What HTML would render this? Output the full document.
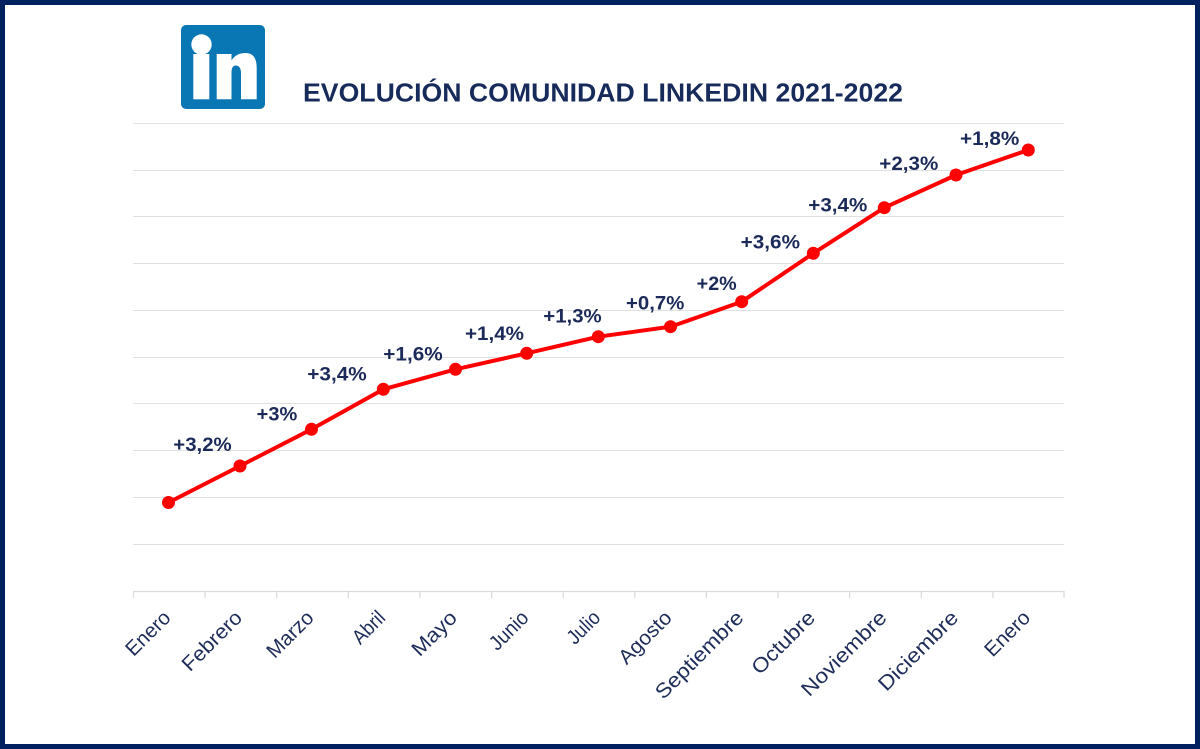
<!DOCTYPE html>
<html>
<head>
<meta charset="utf-8">
<style>
  html, body { margin: 0; padding: 0; background: #fff; }
  body { width: 1200px; height: 749px; overflow: hidden; }
  svg { display: block; }
</style>
</head>
<body>
<svg width="1200" height="749" viewBox="0 0 1200 749" xmlns="http://www.w3.org/2000/svg">
  <!-- background + border -->
  <rect x="0" y="0" width="1200" height="749" fill="#002060"/>
  <rect x="5" y="5" width="1190" height="739" fill="#ffffff"/>

  <!-- LinkedIn logo -->
  <rect x="181" y="25" width="84" height="84" rx="5" ry="5" fill="#0a77b5"/>
  <circle cx="201.5" cy="44.5" r="10.2" fill="#ffffff"/>
  <rect x="193.3" y="54" width="16" height="45.3" fill="#ffffff"/>
  <path d="M216.7 54 H231.5 V60.5 C234.5 55.5 239.5 53 245.5 53 C253 53 256.7 58 256.7 68 V99.3 H241 V73 C241 68 239 65.5 235.8 65.5 C232.8 65.5 231.5 68 231.5 73 V99.3 H216.7 Z" fill="#ffffff"/>

  <!-- Title -->
  <text x="303" y="101.5" font-family="Liberation Sans, Arial, sans-serif" font-weight="bold" font-size="26" fill="#172b5b" textLength="600" lengthAdjust="spacingAndGlyphs">EVOLUCIÓN COMUNIDAD LINKEDIN 2021-2022</text>

  <!-- Gridlines -->
  <g stroke="#e0e0e0" stroke-width="1">
    <line x1="133" x2="1064" y1="123.5" y2="123.5"/>
    <line x1="133" x2="1064" y1="170.5" y2="170.5"/>
    <line x1="133" x2="1064" y1="216.5" y2="216.5"/>
    <line x1="133" x2="1064" y1="263.5" y2="263.5"/>
    <line x1="133" x2="1064" y1="310.5" y2="310.5"/>
    <line x1="133" x2="1064" y1="357.5" y2="357.5"/>
    <line x1="133" x2="1064" y1="403.5" y2="403.5"/>
    <line x1="133" x2="1064" y1="450.5" y2="450.5"/>
    <line x1="133" x2="1064" y1="497.5" y2="497.5"/>
    <line x1="133" x2="1064" y1="544.5" y2="544.5"/>
  </g>
  <!-- Axis line and ticks -->
  <g stroke="#d9d9d9" stroke-width="1.2">
    <line x1="133" x2="1064" y1="591.5" y2="591.5"/>
    <line x1="133.5" x2="133.5" y1="591" y2="598"/>
    <line x1="205.1" x2="205.1" y1="591" y2="598"/>
    <line x1="276.7" x2="276.7" y1="591" y2="598"/>
    <line x1="348.3" x2="348.3" y1="591" y2="598"/>
    <line x1="419.9" x2="419.9" y1="591" y2="598"/>
    <line x1="491.6" x2="491.6" y1="591" y2="598"/>
    <line x1="563.2" x2="563.2" y1="591" y2="598"/>
    <line x1="634.8" x2="634.8" y1="591" y2="598"/>
    <line x1="706.4" x2="706.4" y1="591" y2="598"/>
    <line x1="778.0" x2="778.0" y1="591" y2="598"/>
    <line x1="849.6" x2="849.6" y1="591" y2="598"/>
    <line x1="921.3" x2="921.3" y1="591" y2="598"/>
    <line x1="992.9" x2="992.9" y1="591" y2="598"/>
    <line x1="1064" x2="1064" y1="591" y2="598"/>
  </g>

  <!-- X-axis labels (rotated -45) -->
  <g font-family="Liberation Sans, Arial, sans-serif" font-size="20.5" fill="#1f2d5a" text-anchor="end">
    <text transform="translate(171.8,619) rotate(-45)" textLength="54" lengthAdjust="spacingAndGlyphs">Enero</text>
    <text transform="translate(243.4,619) rotate(-45)" textLength="75.5" lengthAdjust="spacingAndGlyphs">Febrero</text>
    <text transform="translate(315.0,619) rotate(-45)" textLength="57" lengthAdjust="spacingAndGlyphs">Marzo</text>
    <text transform="translate(386.6,619) rotate(-45)" textLength="37.3" lengthAdjust="spacingAndGlyphs">Abril</text>
    <text transform="translate(458.2,619) rotate(-45)" textLength="54.3" lengthAdjust="spacingAndGlyphs">Mayo</text>
    <text transform="translate(529.8,619) rotate(-45)" textLength="46" lengthAdjust="spacingAndGlyphs">Junio</text>
    <text transform="translate(601.5,619) rotate(-45)" textLength="37.5" lengthAdjust="spacingAndGlyphs">Julio</text>
    <text transform="translate(673.1,619) rotate(-45)" textLength="65.8" lengthAdjust="spacingAndGlyphs">Agosto</text>
    <text transform="translate(744.7,619) rotate(-45)" textLength="115" lengthAdjust="spacingAndGlyphs">Septiembre</text>
    <text transform="translate(816.3,619) rotate(-45)" textLength="80" lengthAdjust="spacingAndGlyphs">Octubre</text>
    <text transform="translate(887.9,619) rotate(-45)" textLength="111" lengthAdjust="spacingAndGlyphs">Noviembre</text>
    <text transform="translate(959.5,619) rotate(-45)" textLength="103.5" lengthAdjust="spacingAndGlyphs">Diciembre</text>
    <text transform="translate(1031.5,619) rotate(-45)" textLength="55" lengthAdjust="spacingAndGlyphs">Enero</text>
  </g>

  <!-- Series line -->
  <polyline fill="none" stroke="#ff0000" stroke-width="4" stroke-linejoin="round" stroke-linecap="round"
    points="168.5,502.5 240,466 311.5,429.3 383.3,389.3 455.5,369.3 526.7,353.3 598.3,336.7 670.5,326.7 741.7,301.7 813.3,253.3 884.3,207.7 956,175 1028.3,150"/>
  <g fill="#ff0000">
    <circle cx="168.5" cy="502.5" r="6.5"/>
    <circle cx="240" cy="466" r="6.5"/>
    <circle cx="311.5" cy="429.3" r="6.5"/>
    <circle cx="383.3" cy="389.3" r="6.5"/>
    <circle cx="455.5" cy="369.3" r="6.5"/>
    <circle cx="526.7" cy="353.3" r="6.5"/>
    <circle cx="598.3" cy="336.7" r="6.5"/>
    <circle cx="670.5" cy="326.7" r="6.5"/>
    <circle cx="741.7" cy="301.7" r="6.5"/>
    <circle cx="813.3" cy="253.3" r="6.5"/>
    <circle cx="884.3" cy="207.7" r="6.5"/>
    <circle cx="956" cy="175" r="6.5"/>
    <circle cx="1028.3" cy="150" r="6.5"/>
  </g>

  <!-- Data labels -->
  <g font-family="Liberation Sans, Arial, sans-serif" font-weight="bold" font-size="19.5" fill="#1b2a58">
    <text x="173.3" y="451" textLength="58.4" lengthAdjust="spacingAndGlyphs">+3,2%</text>
    <text x="256.7" y="420.7" textLength="40.6" lengthAdjust="spacingAndGlyphs">+3%</text>
    <text x="307.3" y="380.7" textLength="59.4" lengthAdjust="spacingAndGlyphs">+3,4%</text>
    <text x="383.3" y="360.7" textLength="59.4" lengthAdjust="spacingAndGlyphs">+1,6%</text>
    <text x="465" y="340" textLength="59" lengthAdjust="spacingAndGlyphs">+1,4%</text>
    <text x="543.3" y="322.3" textLength="58.4" lengthAdjust="spacingAndGlyphs">+1,3%</text>
    <text x="626" y="309.3" textLength="58.3" lengthAdjust="spacingAndGlyphs">+0,7%</text>
    <text x="696.7" y="290" textLength="40" lengthAdjust="spacingAndGlyphs">+2%</text>
    <text x="740.7" y="248.3" textLength="59.3" lengthAdjust="spacingAndGlyphs">+3,6%</text>
    <text x="808.3" y="211.7" textLength="59" lengthAdjust="spacingAndGlyphs">+3,4%</text>
    <text x="879.3" y="170" textLength="59" lengthAdjust="spacingAndGlyphs">+2,3%</text>
    <text x="960" y="145" textLength="59.3" lengthAdjust="spacingAndGlyphs">+1,8%</text>
  </g>
</svg>
</body>
</html>
